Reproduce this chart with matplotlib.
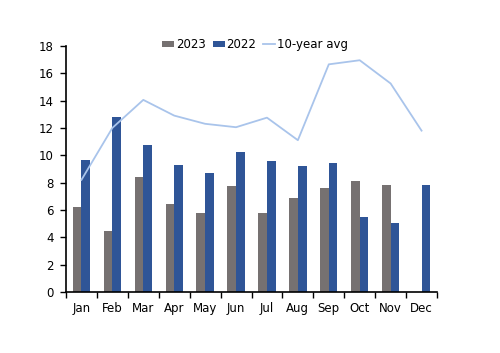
import numpy as np
import matplotlib
matplotlib.use("Agg")
import matplotlib.pyplot as plt
from matplotlib.ticker import FixedLocator

months = ["Jan", "Feb", "Mar", "Apr", "May", "Jun", "Jul", "Aug", "Sep", "Oct", "Nov", "Dec"]
y2023 = [6.25, 4.45, 8.4, 6.45, 5.8, 7.75, 5.8, 6.9, 7.6, 8.1, 7.85, np.nan]
y2022 = [9.65, 12.8, 10.75, 9.3, 8.7, 10.25, 9.6, 9.2, 9.45, 5.45, 5.05, 7.85]
avg10 = [8.2, 12.0, 14.05, 12.9, 12.3, 12.05, 12.75, 11.1, 16.65, 16.95, 15.25, 11.8]

plt.rcParams["font.family"] = ["DejaVu Sans"]
plt.rcParams["font.size"] = 8.5

fig = plt.figure(figsize=(5, 3.53), dpi=100)
ax = fig.add_axes([0.132, 0.173, 0.742, 0.697])

x = np.arange(len(months))
w = 0.28
b1 = ax.bar(x - w / 2, y2023, w, color="#767171", label="2023")
b2 = ax.bar(x + w / 2, y2022, w, color="#2F5597", label="2022")
l1, = ax.plot(x, avg10, color="#A9C4EB", lw=1.3, label="10-year avg")

ax.set_xlim(-0.5, 11.5)
ax.set_ylim(0, 18)
ax.set_yticks(range(0, 19, 2))
ax.set_xticks(x)
ax.set_xticklabels(months)
ax.xaxis.set_minor_locator(FixedLocator(np.arange(-0.5, 12, 1)))
ax.tick_params(axis="x", which="major", length=0, pad=7)
ax.tick_params(axis="x", which="minor", length=4, width=1, direction="out")
ax.tick_params(axis="y", length=4, width=1, direction="out", pad=5)
for s in ["top", "right"]:
    ax.spines[s].set_visible(False)
for s in ["left", "bottom"]:
    ax.spines[s].set_linewidth(1.2)

ax.legend([b1, b2, l1], ["2023", "2022", "10-year avg"], loc="center",
          bbox_to_anchor=(0.51, 1.005), ncol=3, frameon=False,
          handlelength=1.0, handleheight=0.5, handletextpad=0.15,
          columnspacing=0.6, fontsize=8.5)

fig.savefig("out.png", dpi=100)
